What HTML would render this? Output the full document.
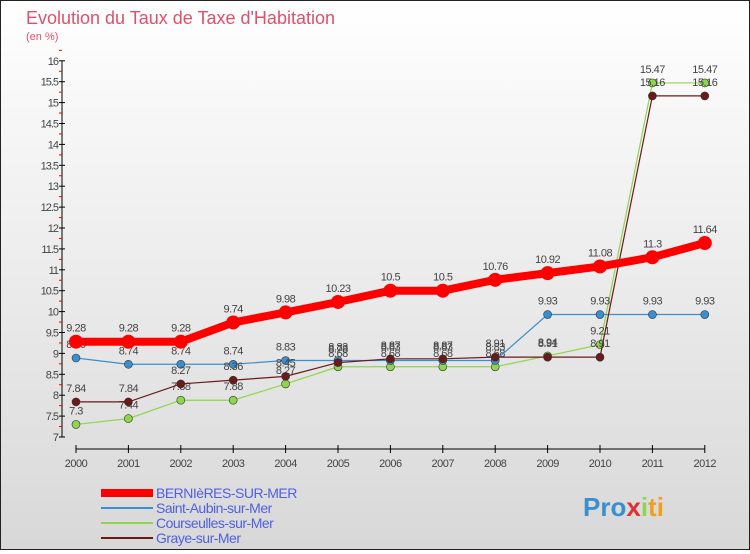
<!DOCTYPE html>
<html><head><meta charset="utf-8"><style>
body{margin:0;width:750px;height:550px;overflow:hidden;font-family:"Liberation Sans",sans-serif}
#wrap{position:relative;width:748px;height:548px;border:1px solid #222;background:linear-gradient(#fff,#d8d8d8)}
</style></head><body>
<div id="wrap">
<svg id="c" width="748" height="548"></svg>
</div>
<script>
const years=["2000","2001","2002","2003","2004","2005","2006","2007","2008","2009","2010","2011","2012"];
const bern=[9.28,9.28,9.28,9.74,9.98,10.23,10.5,10.5,10.76,10.92,11.08,11.3,11.64];
const aubin=[8.89,8.74,8.74,8.74,8.83,8.83,8.83,8.83,8.83,9.93,9.93,9.93,9.93];
const cours=[7.3,7.44,7.88,7.88,8.27,8.68,8.68,8.68,8.68,8.94,9.21,15.47,15.47];
const graye=[7.84,7.84,8.27,8.36,8.45,8.78,8.87,8.87,8.91,8.91,8.91,15.16,15.16];
const yTicks=[7,7.5,8,8.5,9,9.5,10,10.5,11,11.5,12,12.5,13,13.5,14,14.5,15,15.5,16];
const NS="http://www.w3.org/2000/svg",svg=document.getElementById('c');
const X=i=>75+i*52.4, Y=v=>436-(v-7)*41.8;
function el(t,a,p){const e=document.createElementNS(NS,t);for(const k in a)e.setAttribute(k,a[k]);(p||svg).appendChild(e);return e;}
let t=el('text',{x:25,y:23,'font-size':18,fill:'#e0506a'});t.textContent="Evolution du Taux de Taxe d'Habitation";

t=el('text',{x:25,y:39,'font-size':11,fill:'#e0506a'});t.textContent="(en %)";

let ax=el('line',{x1:61,y1:Y(16),x2:61,y2:Y(7),stroke:'#000'});

yTicks.forEach(v=>{el('line',{x1:58,x2:64,y1:Y(v),y2:Y(v),stroke:'#000'});
 el('line',{x1:58,x2:61,y1:Y(v+0.25),y2:Y(v+0.25),stroke:'#e00'});
 const l=el('text',{x:57,y:Y(v)+4,'font-size':11,fill:'#444','text-anchor':'end','letter-spacing':'-1'});l.textContent=v;
 });
ax=el('line',{x1:X(0),y1:448,x2:X(12),y2:448,stroke:'#000'});

years.forEach((y,i)=>{el('line',{x1:X(i),x2:X(i),y1:444,y2:452,stroke:'#000'});
 const l=el('text',{x:X(i),y:466,'font-size':11,fill:'#444','text-anchor':'middle','letter-spacing':'-0.5'});l.textContent=y;
 });
function series(d,col,w,r,name){const g=el('g',{});
 el('polyline',{points:d.map((v,i)=>X(i)+','+Y(v)).join(' '),fill:'none',stroke:col,'stroke-width':w},g);
 d.forEach((v,i)=>{const c=el('circle',{cx:X(i),cy:Y(v),r:r,fill:col,stroke:'#333','stroke-width':r>5?0:0.6},g);
  
  const l=el('text',{x:X(i),y:Y(v)-10,'font-size':11,fill:'#444','text-anchor':'middle','letter-spacing':'-0.5'},g);l.textContent=v;});}
series(cours,'#8ed64e',1.2,4,'series-courseulles');
series(aubin,'#3b8fd0',1.2,4,'series-saint-aubin');
series(graye,'#6b1a1a',1.2,4,'series-graye');
series(bern,'#f00',8,7,'series-bernieres');
const leg=[["BERNIèRES-SUR-MER",'#f00',8],["Saint-Aubin-sur-Mer",'#3b8fd0',2],["Courseulles-sur-Mer",'#8ed64e',2],["Graye-sur-Mer",'#6b1a1a',2]];
leg.forEach((e,i)=>{const g=el('g',{});
 el('line',{x1:100,x2:152,y1:492+i*15,y2:492+i*15,stroke:e[1],'stroke-width':e[2]},g);
 const l=el('text',{x:155,y:497+i*15,'font-size':14,fill:'#5060e0','letter-spacing':'-0.5'},g);l.textContent=e[0];});
const p=el('text',{x:582,y:515,'font-size':26,'font-weight':'bold',fill:'#f0a020'});
p.innerHTML='<tspan fill="#3b8fd0">Pro</tspan><tspan fill="#e03030">x</tspan><tspan fill="#8ed64e">i</tspan><tspan fill="#f0a020">ti</tspan>';

</script>
</body></html>
